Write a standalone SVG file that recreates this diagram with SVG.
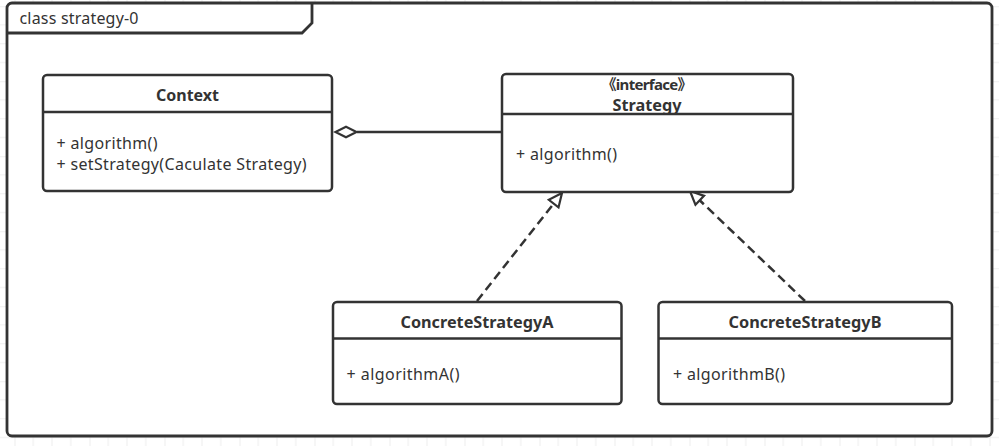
<svg xmlns="http://www.w3.org/2000/svg" width="999" height="446" viewBox="0 0 999 446">
  <style>
    .box { fill: #ffffff; stroke: #333333; stroke-width: 2.5; }
    .div { stroke: #333333; stroke-width: 2.5; }
    .title { font-family: "Noto Sans", "Noto Sans CJK SC", sans-serif; font-size: 16px; font-weight: bold; fill: #333333; text-anchor: middle; }
    .stereo { font-size: 15px; }
    .member { font-family: "Noto Sans", "Noto Sans CJK SC", sans-serif; font-size: 16px; fill: #333333; }
    .edge { fill: none; stroke: #333333; stroke-width: 2.5; }
    .dashed { stroke-dasharray: 9 5; }
  </style>
  <defs>
    <pattern id="grid" patternUnits="userSpaceOnUse" x="14.5" y="6.25" width="75" height="75">
      <path d="M0,0 V75 M18.75,0 V75 M37.5,0 V75 M56.25,0 V75 M0,0 H75 M0,18.75 H75 M0,37.5 H75 M0,56.25 H75" fill="none" stroke="#ededed" stroke-width="1"/>
      <path d="M0,0 V75 M0,0 H75" fill="none" stroke="#e2e2e2" stroke-width="1"/>
    </pattern>
    <marker id="realize" markerUnits="userSpaceOnUse" markerWidth="20" markerHeight="20" refX="15" refY="8" orient="auto">
      <path d="M15,8 L1.5,1.8 L1.5,14.2 Z" fill="#ffffff" stroke="#333333" stroke-width="2.2" stroke-linejoin="miter"/>
    </marker>
  </defs>

  <!-- canvas with light grid -->
  <rect x="0" y="0" width="999" height="446" fill="#ffffff"/>
  <rect x="0" y="0" width="999" height="446" fill="url(#grid)"/>

  <!-- package frame -->
  <g id="frame">
    <rect x="7" y="3" width="985" height="433" rx="5" fill="#ffffff" stroke="#333333" stroke-width="2.8"/>
    <path d="M7,33 H302 L312,23 V3" fill="none" stroke="#333333" stroke-width="2.8"/>
    <text x="19.5" y="24" font-family="Noto Sans, sans-serif" font-size="16" fill="#333333" textLength="119" lengthAdjust="spacing">class strategy-0</text>
  </g>

  <!-- connectors -->
  <g id="connectors">
    <line class="edge" x1="501" y1="132" x2="357" y2="132"/>
    <path d="M335.5,132 L346,126.8 L356.5,132 L346,137.2 Z" fill="#ffffff" stroke="#333333" stroke-width="2.2"/>
    <line class="edge dashed" x1="477" y1="301" x2="562" y2="193" marker-end="url(#realize)"/>
    <line class="edge dashed" x1="805" y1="301" x2="690" y2="191" marker-end="url(#realize)"/>
  </g>

  <g id="Context">
    <rect class="box" x="43" y="75" width="289" height="116" rx="4"/>
    <line class="div" x1="43" y1="112" x2="332" y2="112"/>
    <text class="title" x="187.5" y="100.5" textLength="63" lengthAdjust="spacingAndGlyphs">Context</text>
    <text class="member" x="56.5" y="148.5" textLength="101" lengthAdjust="spacing">+ algorithm()</text>
    <text class="member" x="56.5" y="169.5" textLength="250" lengthAdjust="spacing">+ setStrategy(Caculate Strategy)</text>
  </g>

  <g id="Strategy">
    <rect class="box" x="502" y="74" width="291" height="118" rx="4"/>
    <line class="div" x1="502" y1="114" x2="793" y2="114"/>
    <text class="title stereo" x="647" y="89.5" textLength="91" lengthAdjust="spacing">《interface》</text>
    <text class="title" x="647" y="110.5" textLength="69" lengthAdjust="spacingAndGlyphs">Strategy</text>
    <text class="member" x="516" y="159.5" textLength="101" lengthAdjust="spacing">+ algorithm()</text>
  </g>

  <g id="ConcreteStrategyA">
    <rect class="box" x="333" y="302" width="288.5" height="102" rx="4"/>
    <line class="div" x1="333" y1="338.5" x2="621.5" y2="338.5"/>
    <text class="title" x="477" y="327.5" textLength="153" lengthAdjust="spacingAndGlyphs">ConcreteStrategyA</text>
    <text class="member" x="346.5" y="379.5" textLength="113" lengthAdjust="spacing">+ algorithmA()</text>
  </g>

  <g id="ConcreteStrategyB">
    <rect class="box" x="658.5" y="302" width="293.5" height="102" rx="4"/>
    <line class="div" x1="658.5" y1="338.5" x2="952" y2="338.5"/>
    <text class="title" x="805" y="327.5" textLength="153" lengthAdjust="spacingAndGlyphs">ConcreteStrategyB</text>
    <text class="member" x="673" y="379.5" textLength="112" lengthAdjust="spacing">+ algorithmB()</text>
  </g>
</svg>
